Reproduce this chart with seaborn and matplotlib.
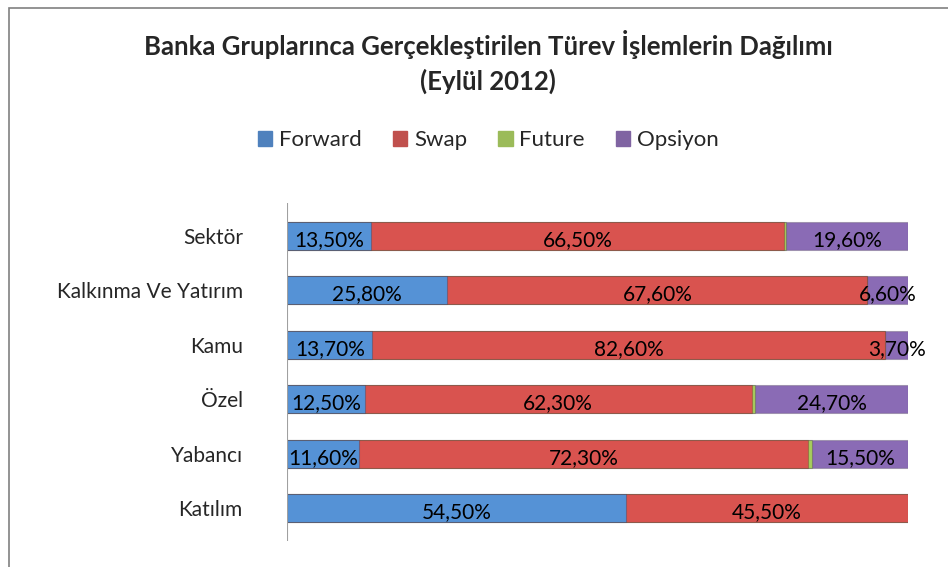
import numpy as np
import pandas as pd
import seaborn as sns
import matplotlib.pyplot as plt
from matplotlib.patches import Rectangle, Patch

# Veriler (Eylül 2012, %)
gruplar = ['Sektör', 'Kalkınma Ve Yatırım', 'Kamu', 'Özel', 'Yabancı', 'Katılım']
forward = [13.5, 25.8, 13.7, 12.5, 11.6, 54.5]
swap = [66.5, 67.6, 82.6, 62.3, 72.3, 45.5]
future = [0.4, 0.0, 0.0, 0.5, 0.6, 0.0]
opsiyon = [19.6, 6.6, 3.7, 24.7, 15.5, 0.0]
seriler = ['Forward', 'Swap', 'Future', 'Opsiyon']

df = pd.DataFrame({'Grup': gruplar, 'Forward': forward, 'Swap': swap,
                   'Future': future, 'Opsiyon': opsiyon})

bar_renk = {'Forward': '#5592D6', 'Swap': '#D9534F', 'Future': '#A6CC5E', 'Opsiyon': '#8A6BB5'}
leg_renk = {'Forward': '#4F81BD', 'Swap': '#C0504D', 'Future': '#9BBB59', 'Opsiyon': '#8064A2'}

sns.set_style('white')
plt.rcParams['font.family'] = ['Lato', 'DejaVu Sans']

fig = plt.figure(figsize=(9.48, 5.67), dpi=100)
ax = fig.add_axes([0.303, 0.046, 0.655, 0.596])

# Yığılmış çubuklar: kümülatif toplamlar en büyükten küçüğe çizilir
kum = df[seriler].cumsum(axis=1)
for s in reversed(seriler):
    sns.barplot(x=kum[s], y=df['Grup'], color=bar_renk[s], orient='h',
                width=0.52, ax=ax, edgecolor='#00000030', linewidth=0.8, saturation=1)

# Değer etiketleri
for i in range(len(gruplar)):
    sol = 0
    for s in seriler:
        v = df[s][i]
        if s != 'Future' and v > 0:
            ax.text(sol + v / 2, i + 0.08, f'{v:.2f}%'.replace('.', ','),
                    ha='center', va='center', fontsize=15, color='black')
        sol += v

ax.set_xlim(0, 100)
ax.set_ylim(5.6, -0.6)
ax.set_xlabel('')
ax.set_ylabel('')
ax.set_xticks([])
ax.tick_params(axis='y', length=0, labelsize=15, pad=32)
for sp in ax.spines.values():
    sp.set_visible(False)
ax.axvline(0, color='#A0A0A0', lw=1.5)

# Başlık ve lejant
fig.text(0.515, 0.89, 'Banka Gruplarınca Gerçekleştirilen Türev İşlemlerin Dağılımı\n(Eylül 2012)',
         ha='center', va='center', fontsize=18.5, fontweight='bold', linespacing=1.45)
handles = [Patch(color=leg_renk[s], label=s) for s in seriler]
fig.legend(handles=handles, loc='center', bbox_to_anchor=(0.515, 0.753), ncol=4,
           frameon=False, fontsize=16, handlelength=0.65, handleheight=0.65,
           handletextpad=0.3, columnspacing=1.4)

# Grafik çerçevesi
fig.patches.append(Rectangle((0.009, -0.01), 1.0, 0.996, transform=fig.transFigure,
                             fill=False, edgecolor='#808080', lw=1.2))

fig.savefig('out.png', dpi=100)
